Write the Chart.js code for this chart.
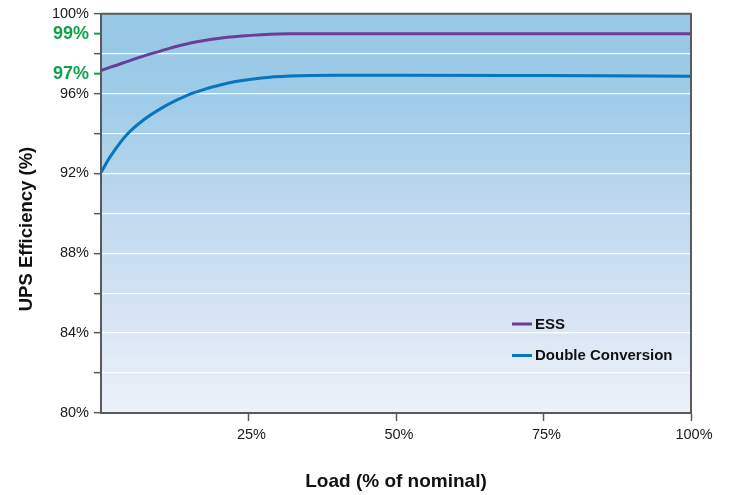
<!DOCTYPE html>
<html>
<head>
<meta charset="utf-8">
<script src="https://cdn.jsdelivr.net/npm/chart.js@4/dist/chart.umd.min.js"></script>
<style>
  html, body { margin: 0; padding: 0; background: #ffffff; }
  canvas { display: block; }
</style>
</head>
<body>
<canvas id="c" width="731" height="495"></canvas>
<script>
// ---- data ----
const loadPoints = [0, 1.6, 4.4, 7.3, 10.2, 12.9, 15.8, 21.4, 27.2, 32, 40, 50, 75, 100];
const essValues = [97.15, 97.32, 97.6, 97.89, 98.14, 98.37, 98.57, 98.82, 98.95, 99.0, 99.0, 99.0, 99.0, 99.0];
const doubleConvValues = [92.05, 92.85, 93.95, 94.70, 95.26, 95.68, 96.05, 96.52, 96.78, 96.88, 96.92, 96.92, 96.9, 96.87];
const seriesNames = ['ESS', 'Double Conversion'];
const xTicks = [25, 50, 75, 100];
const yLabelTicks = [80, 84, 88, 92, 96, 100];
const yMinorTicks = [82, 86, 90, 94, 98];
const yHighlightTicks = [97, 99];
const xTitle = 'Load (% of nominal)';
const yTitle = 'UPS Efficiency (%)';

// ---- styles ----
const FONT = '"Liberation Sans", Arial, Helvetica, sans-serif';
const GREEN = '#0fa24b';
const PURPLE = '#6b3d97';
const BLUE = '#0a74bd';
const AXIS = '#5a5a5a';

const yAllTicks = [...yLabelTicks, ...yMinorTicks, ...yHighlightTicks].sort((a, b) => a - b);
const yGridTicks = yAllTicks.filter(v => v !== 80 && v !== 100 && !yHighlightTicks.includes(v));

const bgPlugin = {
  id: 'bg',
  beforeDraw(chart) {
    const { ctx, chartArea: a } = chart;
    const g = ctx.createLinearGradient(0, a.top, 0, a.bottom);
    g.addColorStop(0, '#96c7e5');
    g.addColorStop(0.22, '#9fcce9');
    g.addColorStop(0.5, '#c0d9ef');
    g.addColorStop(0.78, '#d9e5f4');
    g.addColorStop(1, '#edf1fa');
    ctx.save();
    ctx.fillStyle = g;
    ctx.fillRect(a.left, a.top, a.right - a.left, a.bottom - a.top);
    ctx.restore();
  }
};

const framePlugin = {
  id: 'frame',
  afterDraw(chart) {
    const { ctx, chartArea: a } = chart;
    ctx.save();
    ctx.strokeStyle = AXIS;
    ctx.lineWidth = 2;
    ctx.beginPath();
    ctx.moveTo(a.left, a.top);
    ctx.lineTo(a.right, a.top);
    ctx.lineTo(a.right, a.bottom);
    ctx.stroke();
    ctx.restore();
  }
};

const legendPlugin = {
  id: 'insideLegend',
  afterDraw(chart) {
    const { ctx } = chart;
    ctx.save();
    chart.data.datasets.forEach((ds, i) => {
      const y = 324 + i * 31.5;
      ctx.strokeStyle = ds.borderColor;
      ctx.lineWidth = 3;
      ctx.beginPath();
      ctx.moveTo(512, y);
      ctx.lineTo(532, y);
      ctx.stroke();
      ctx.fillStyle = '#111';
      ctx.font = 'bold 15px ' + FONT;
      ctx.textAlign = 'left';
      ctx.textBaseline = 'middle';
      ctx.fillText(ds.label, 535, y + 0.5);
    });
    ctx.restore();
  }
};

const yTitlePlugin = {
  id: 'yTitle',
  afterDraw(chart) {
    const { ctx } = chart;
    ctx.save();
    ctx.translate(32, 229);
    ctx.rotate(-Math.PI / 2);
    ctx.fillStyle = '#111';
    ctx.font = 'bold 18.5px ' + FONT;
    ctx.textAlign = 'center';
    ctx.textBaseline = 'alphabetic';
    ctx.fillText(yTitle, 0, 0);
    ctx.restore();
  }
};

const toPoints = (vals) => loadPoints.map((x, i) => ({ x, y: vals[i] }));

new Chart(document.getElementById('c'), {
  type: 'line',
  data: {
    datasets: [
      {
        label: seriesNames[0],
        data: toPoints(essValues),
        borderColor: PURPLE,
        borderWidth: 3,
        pointRadius: 0,
        cubicInterpolationMode: 'monotone',
        fill: false
      },
      {
        label: seriesNames[1],
        data: toPoints(doubleConvValues),
        borderColor: BLUE,
        borderWidth: 3,
        pointRadius: 0,
        cubicInterpolationMode: 'monotone',
        fill: false
      }
    ]
  },
  options: {
    responsive: false,
    animation: false,
    events: [],
    layout: { padding: { left: 0, right: 40, top: 12, bottom: 0 } },
    plugins: {
      legend: { display: false },
      tooltip: { enabled: false },
      title: { display: false }
    },
    scales: {
      x: {
        type: 'linear',
        min: 0,
        max: 100,
        afterBuildTicks(scale) { scale.ticks = xTicks.map(v => ({ value: v })); },
        afterFit(scale) { scale.height = 82; },
        border: { display: true, color: AXIS, width: 2 },
        grid: {
          display: true,
          drawOnChartArea: false,
          drawTicks: true,
          tickLength: 8,
          tickColor: AXIS,
          tickWidth: 1.5
        },
        ticks: {
          autoSkip: false,
          maxRotation: 0,
          padding: 5,
          labelOffset: 3,
          color: '#1a1a1a',
          font: { family: FONT, size: 14.5 },
          callback: (v) => v + '%'
        },
        title: {
          display: true,
          text: xTitle,
          color: '#111',
          font: { family: FONT, size: 19, weight: 'bold' },
          padding: { top: 0, bottom: 2 }
        }
      },
      y: {
        type: 'linear',
        min: 80,
        max: 100,
        afterBuildTicks(scale) { scale.ticks = yAllTicks.map(v => ({ value: v })); },
        afterFit(scale) { scale.width = 101; },
        border: { display: true, color: AXIS, width: 2 },
        grid: {
          display: true,
          drawOnChartArea: true,
          drawTicks: true,
          tickLength: 7,
          color: (c) => (c.tick && yGridTicks.includes(c.tick.value)) ? 'rgba(255,255,255,0.95)' : 'rgba(0,0,0,0)',
          lineWidth: 1.3,
          tickColor: (c) => (c.tick && yHighlightTicks.includes(c.tick.value)) ? GREEN : AXIS,
          tickWidth: (c) => (c.tick && yHighlightTicks.includes(c.tick.value)) ? 2 : 1.5
        },
        ticks: {
          autoSkip: false,
          padding: 5,
          color: (c) => (c.tick && yHighlightTicks.includes(c.tick.value)) ? GREEN : '#1a1a1a',
          font: (c) => (c.tick && yHighlightTicks.includes(c.tick.value))
            ? { family: FONT, size: 18, weight: 'bold' }
            : { family: FONT, size: 14.5 },
          callback: (v) => (yLabelTicks.includes(v) || yHighlightTicks.includes(v)) ? v + '%' : ''
        },
        title: { display: false }
      }
    }
  },
  plugins: [bgPlugin, framePlugin, legendPlugin, yTitlePlugin]
});
</script>
</body>
</html>
